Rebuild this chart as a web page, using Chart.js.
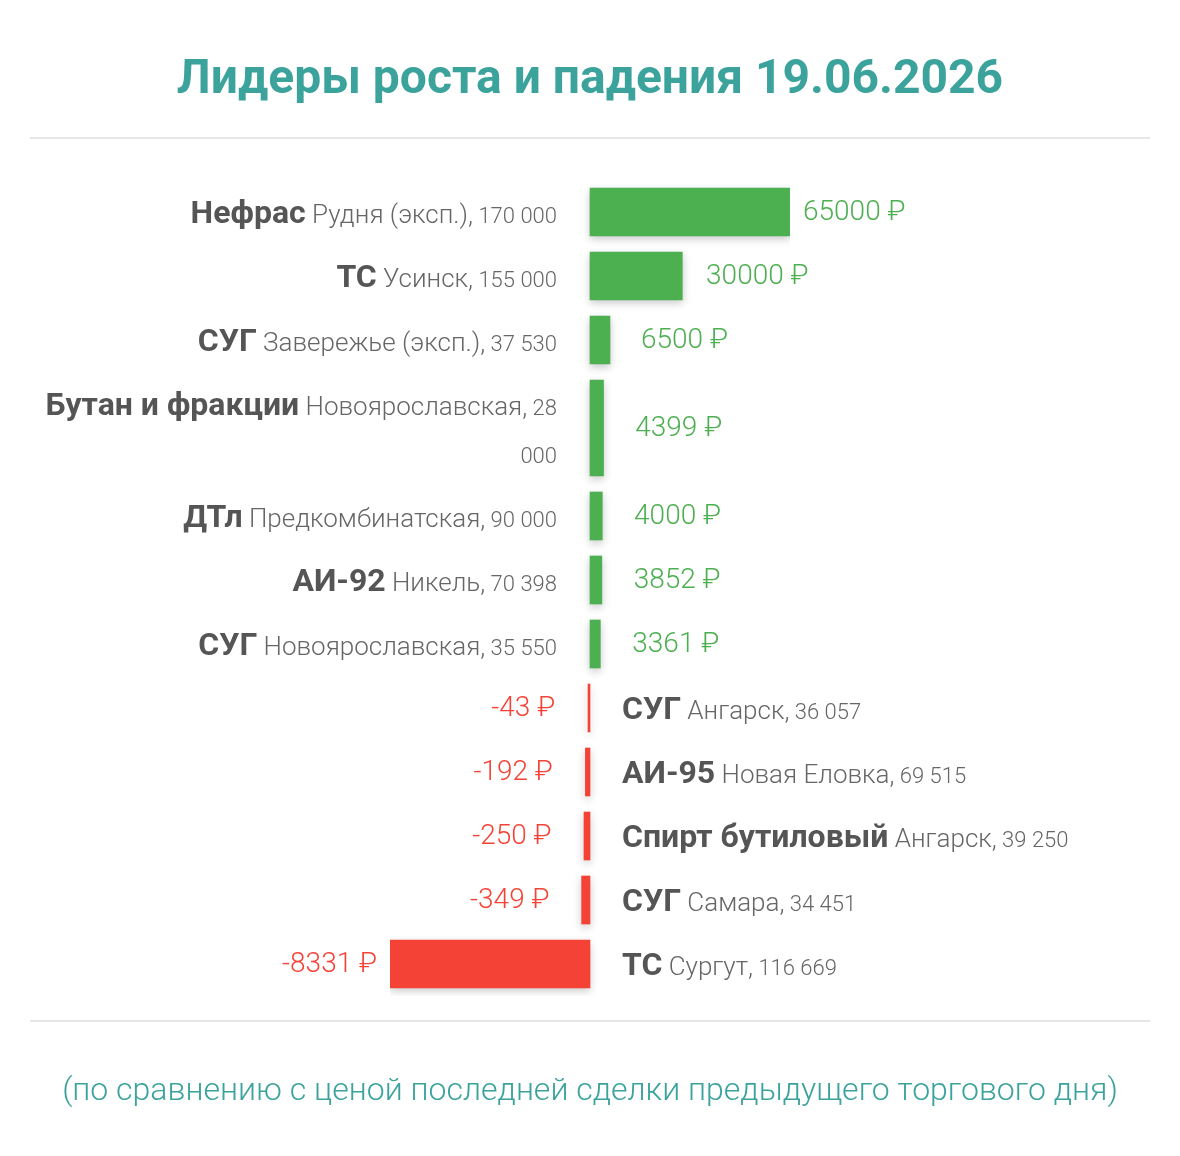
<!DOCTYPE html>
<html lang="ru">
<head>
<meta charset="utf-8">
<title>Лидеры роста и падения</title>
<script src="https://cdn.jsdelivr.net/npm/chart.js@4/dist/chart.umd.min.js"></script>
<style>
  html, body { margin: 0; padding: 0; background: #fff; }
  #wrap { width: 1180px; height: 1156px; }
</style>
</head>
<body>
<div id="wrap"><canvas id="mycanvas" width="1180" height="1156"></canvas></div>
<script>
var products = ['Нефрас', 'ТС', 'СУГ', 'Бутан и фракции', 'ДТл', 'АИ-92', 'СУГ', 'СУГ', 'АИ-95', 'Спирт бутиловый', 'СУГ', 'ТС'];
var places = ['Рудня (эксп.)', 'Усинск', 'Завережье (эксп.)', 'Новоярославская', 'Предкомбинатская', 'Никель', 'Новоярославская', 'Ангарск', 'Новая Еловка', 'Ангарск', 'Самара', 'Сургут'];
var prices = ['170 000', '155 000', '37 530', '28 000', '90 000', '70 398', '35 550', '36 057', '69 515', '39 250', '34 451', '116 669'];
var changes = [65000, 30000, 6500, 4399, 4000, 3852, 3361, -43, -192, -250, -349, -8331];

var title = 'Лидеры роста и падения 19.06.2026';
var note = '(по сравнению с ценой последней сделки предыдущего торгового дня)';

var GREEN = '#4caf50', RED = '#f44336', TEAL = '#3ba39c';
var ROW = 64, LINE = 48, GAP = 16, TOP = 180, LABEL_MAX = 520;
var F_NAME = '700 32px Roboto', F_PLACE = '300 26px Roboto', F_PRICE = '300 22px Roboto', F_VALUE = '300 28px Roboto';

// разбиваем подпись на слова и переносим по ширине, как в html
var mctx = document.createElement('canvas').getContext('2d');
function wrapLabel(i) {
	var words = [];
	products[i].split(' ').forEach(function(t){ words.push({t: t, f: F_NAME, c: '#555'}); });
	(places[i] + ',').split(' ').forEach(function(t){ words.push({t: t, f: F_PLACE, c: '#666'}); });
	prices[i].split(' ').forEach(function(t){ words.push({t: t, f: F_PRICE, c: '#666'}); });
	var lines = [[]], widths = [0];
	words.forEach(function(w){
		mctx.font = w.f;
		w.w = mctx.measureText(w.t).width;
		w.sp = mctx.measureText(' ').width;
		var n = lines.length - 1;
		var add = (lines[n].length ? w.sp : 0) + w.w;
		if (lines[n].length && widths[n] + add > LABEL_MAX) {
			lines.push([w]); widths.push(w.w);
		} else {
			lines[n].push(w); widths[n] += add;
		}
	});
	return {lines: lines, widths: widths};
}

var labels = [], centers = [], spans = [];
var pos = 0;
for (var i in products) {
	var lb = wrapLabel(i);
	var span = 1 + (lb.lines.length - 1) * LINE / ROW;
	labels.push(lb);
	spans.push(span);
	centers.push(pos + span / 2);
	pos += span;
}
var total = pos;

// отдельные наборы по знаку и высоте строки
var groups = {};
var order = [];
changes.forEach(function(v, i){
	var up = v >= 0;
	var key = (up ? 'up' : 'down') + spans[i];
	if (!groups[key]) {
		groups[key] = {
			label: up ? 'Рост' : 'Падение',
			data: [],
			rows: [],
			xAxisID: up ? 'xUp' : 'xDown',
			backgroundColor: up ? GREEN : RED,
			barThickness: spans[i] * ROW - GAP,
			grouped: false,
			minBarLength: 2,
			borderWidth: 0
		};
		order.push(key);
	}
	groups[key].data.push({x: v, y: centers[i]});
	groups[key].rows.push(i);
});
var datasets = order.map(function(k){ return groups[k]; });

var maxUp = Math.max.apply(null, changes);
var maxDown = -Math.min.apply(null, changes);

var decor = {
	id: 'decor',
	beforeDatasetsDraw: function(chart) {
		var ctx = chart.ctx;
		ctx.save();
		ctx.shadowColor = 'rgba(0,0,0,0.22)';
		ctx.shadowBlur = 8;
		ctx.shadowOffsetY = 3;
	},
	afterDatasetsDraw: function(chart) {
		var ctx = chart.ctx;
		ctx.restore();

		// значения у концов столбцов
		ctx.save();
		ctx.font = F_VALUE;
		ctx.textBaseline = 'alphabetic';
		chart.data.datasets.forEach(function(ds, d){
			chart.getDatasetMeta(d).data.forEach(function(el, j){
				var v = ds.data[j].x;
				var w = Math.abs(el.x - el.base);
				var gap = 33 - 0.1 * w;
				ctx.fillStyle = v >= 0 ? GREEN : RED;
				ctx.textAlign = v >= 0 ? 'left' : 'right';
				ctx.fillText(v + ' ₽', v >= 0 ? el.x + gap : el.x - gap, el.y + 8);
			});
		});
		ctx.restore();
	},
	afterDraw: function(chart) {
		var ctx = chart.ctx;
		var yScale = chart.scales.y;
		var mid = chart.width / 2;
		ctx.save();

		ctx.fillStyle = TEAL;
		ctx.textAlign = 'center';
		ctx.textBaseline = 'alphabetic';
		ctx.font = '700 48px Roboto';
		ctx.fillText(title, mid, 93);
		ctx.font = '300 32px Roboto';
		ctx.fillText(note, mid, 1100);

		ctx.fillStyle = '#e6e6e6';
		ctx.fillRect(30, 137, chart.width - 60, 2);
		ctx.fillRect(30, 1020, chart.width - 60, 2);

		// подписи строк
		ctx.textAlign = 'left';
		labels.forEach(function(lb, i){
			var cy = yScale.getPixelForValue(centers[i]);
			var n = lb.lines.length;
			lb.lines.forEach(function(line, k){
				var base = cy + 10.5 + (k - (n - 1) / 2) * LINE;
				var x = changes[i] >= 0 ? 557 - lb.widths[k] : 622;
				line.forEach(function(w, m){
					if (m) x += w.sp;
					ctx.font = w.f;
					ctx.fillStyle = w.c;
					ctx.fillText(w.t, x, base);
					x += w.w;
				});
			});
		});
		ctx.restore();
	}
};

var ctx = document.getElementById('mycanvas');
var LeadersChart = new Chart(ctx, {
	type: 'bar',
	data: { datasets: datasets },
	options: {
		indexAxis: 'y',
		responsive: false,
		devicePixelRatio: 1,
		animation: false,
		layout: {
			padding: { left: 390, right: 390, top: TOP, bottom: 1156 - TOP - total * ROW }
		},
		scales: {
			y: { type: 'linear', min: 0, max: total, reverse: true, offset: false, display: false },
			xUp: { type: 'linear', position: 'bottom', min: -maxUp, max: maxUp, display: false },
			xDown: { type: 'linear', position: 'bottom', min: -maxDown, max: maxDown, display: false }
		},
		plugins: {
			legend: { display: false },
			title: { display: false },
			tooltip: { enabled: false }
		}
	},
	plugins: [decor]
});
</script>
</body>
</html>
